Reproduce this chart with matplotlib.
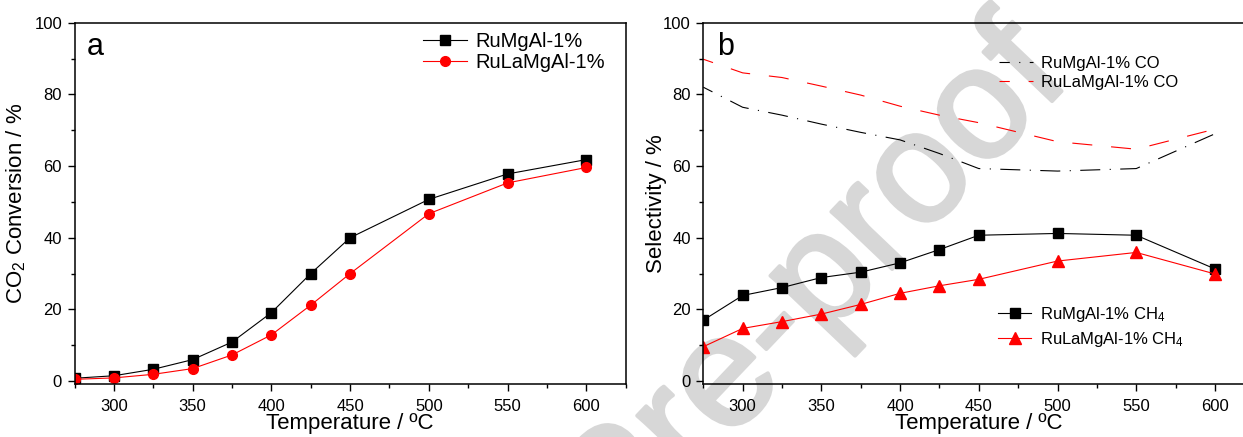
import matplotlib
matplotlib.use('Agg')
import matplotlib.pyplot as plt
import matplotlib.patheffects as pe
from matplotlib.ticker import MultipleLocator

plt.rcParams['font.family'] = ['Liberation Sans', 'DejaVu Sans']
plt.rcParams['mathtext.fontset'] = 'custom'
plt.rcParams['mathtext.rm'] = 'Liberation Sans'
plt.rcParams['mathtext.it'] = 'Liberation Sans:italic'
plt.rcParams['mathtext.default'] = 'regular'
plt.rcParams['lines.scale_dashes'] = False

# temperatures (ºC)
temps = [275, 300, 325, 350, 375, 400, 425, 450, 500, 550, 600]

# panel a: CO2 conversion (%)
conv_ru = [0.8, 1.5, 3.3, 6.0, 10.9, 19.1, 30.0, 40.0, 50.7, 57.8, 61.8]
conv_rula = [0.5, 0.9, 1.9, 3.5, 7.3, 12.9, 21.2, 30.0, 46.7, 55.3, 59.6]

# panel b: selectivity (%)
co_ru = [82.0, 76.4, 74.2, 71.7, 69.4, 67.3, 63.5, 59.3, 58.6, 59.3, 69.0]
co_rula = [89.8, 86.0, 84.7, 82.3, 79.8, 76.7, 74.2, 72.1, 66.8, 64.7, 70.3]
ch4_ru = [17.0, 23.9, 26.1, 28.9, 30.4, 33.0, 36.7, 40.7, 41.2, 40.7, 31.3]
ch4_rula = [9.6, 14.7, 16.6, 18.7, 21.4, 24.5, 26.6, 28.4, 33.5, 35.9, 29.9]

fig = plt.figure(figsize=(12.43, 4.37), dpi=100)

# watermark behind everything
wm_color = '#d7d7d7'
fig.text(0.863, 0.818, 'Journal Pre-proof', fontsize=114, color=wm_color,
         rotation=46.4, rotation_mode='anchor', ha='right', va='baseline', zorder=-1,
         path_effects=[pe.withStroke(linewidth=2.7, foreground=wm_color)])

ax1 = fig.add_axes([0.0600, 0.1213, 0.4433, 0.8268])
ax2 = fig.add_axes([0.5658, 0.1213, 0.4433, 0.8268])

lw = 0.8

# panel a
ax1.plot(temps, conv_ru, color='black', lw=lw, marker='s', ms=6.5, label='RuMgAl-1%')
ax1.plot(temps, conv_rula, color='red', lw=lw, marker='o', ms=7, label='RuLaMgAl-1%')
ax1.set_ylabel('CO$_2$ Conversion / %', fontsize=16)
ax1.yaxis.set_label_coords(-0.084, 0.5)
ax1.text(0.022, 0.911, 'a', transform=ax1.transAxes, fontsize=22, va='baseline')
ax1.legend(loc='upper left', bbox_to_anchor=(0.632, 0.974), frameon=False, fontsize=14.5,
           numpoints=1, handlelength=2.2, handletextpad=0.4, labelspacing=0.1,
           borderpad=0, borderaxespad=0)

# panel b
l1, = ax2.plot(temps, co_ru, color='black', lw=lw, linestyle=(7, (14.4, 6.8, 0.8, 6.8)),
               label='RuMgAl-1% CO')
l2, = ax2.plot(temps, co_rula, color='red', lw=lw, linestyle=(7, (14.4, 13.6)),
               label='RuLaMgAl-1% CO')
l3, = ax2.plot(temps, ch4_ru, color='black', lw=lw, marker='s', ms=6.5,
               label='RuMgAl-1% CH$_4$')
l4, = ax2.plot(temps, ch4_rula, color='red', lw=lw, marker='^', ms=8.5,
               label='RuLaMgAl-1% CH$_4$')
ax2.set_ylabel('Selectivity / %', fontsize=16)
ax2.yaxis.set_label_coords(-0.065, 0.5)
ax2.text(0.025, 0.911, 'b', transform=ax2.transAxes, fontsize=22, va='baseline')
leg_co = ax2.legend(handles=[l1, l2], loc='upper left', bbox_to_anchor=(0.537, 0.908),
                    frameon=False, fontsize=12, handlelength=2.0, handletextpad=0.5,
                    labelspacing=0.25, borderpad=0, borderaxespad=0)
ax2.add_artist(leg_co)
ax2.legend(handles=[l3, l4], loc='upper left', bbox_to_anchor=(0.535, 0.219),
           frameon=False, fontsize=12, numpoints=1, handlelength=2.0, handletextpad=0.5,
           labelspacing=0.35, borderpad=0, borderaxespad=0)

for ax in (ax1, ax2):
    ax.set_facecolor('none')
    ax.set_xlim(275, 625)
    ax.set_ylim(-0.8, 100)
    ax.xaxis.set_major_locator(MultipleLocator(50))
    ax.xaxis.set_minor_locator(MultipleLocator(25))
    ax.yaxis.set_major_locator(MultipleLocator(20))
    ax.yaxis.set_minor_locator(MultipleLocator(10))
    ax.tick_params(which='both', direction='out', top=False, right=False, labelsize=12, width=1)
    ax.tick_params(which='major', length=5)
    ax.tick_params(which='minor', length=3)
    ax.tick_params(axis='x', pad=5.5)
    ax.tick_params(axis='y', pad=4)
    ax.set_xlabel('Temperature / ºC', fontsize=16)
    ax.xaxis.set_label_coords(0.5, -0.080)
    for sp in ax.spines.values():
        sp.set_linewidth(1.1)

fig.savefig('out.png', dpi=100)
